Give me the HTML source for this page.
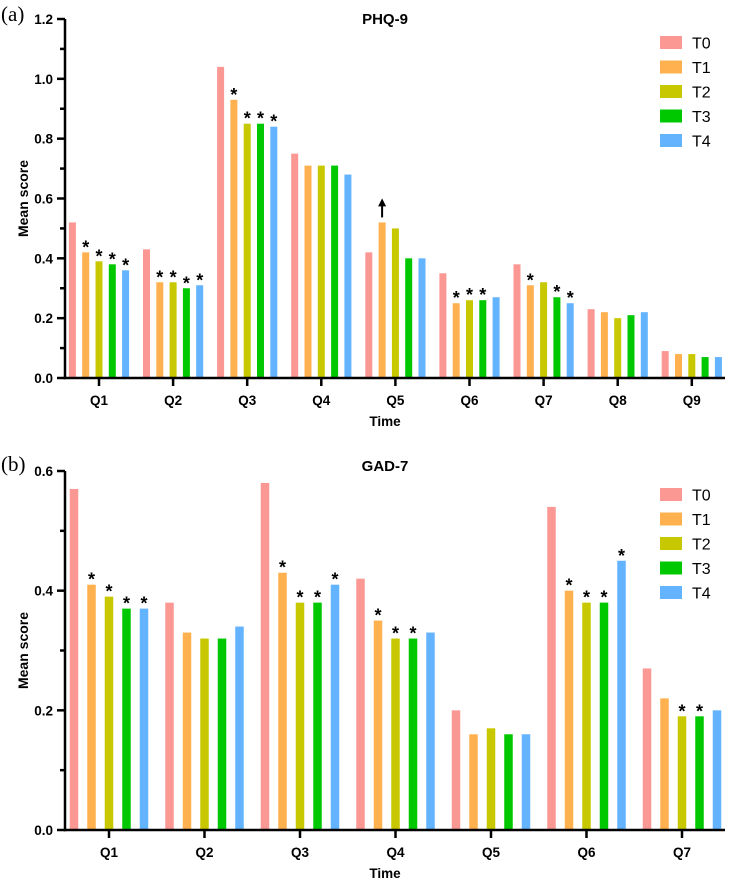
<!DOCTYPE html>
<html><head><meta charset="utf-8"><style>
body{margin:0;background:#fff}
svg{display:block;font-family:"Liberation Sans",sans-serif}
</style></head><body>
<svg id="chart" width="730" height="881"></svg>
<script>
const colors=["#fb9893","#ffb150","#c8c800","#00c800","#63b3ff"];
const seriesNames=["T0","T1","T2","T3","T4"];
const catsA=["Q1","Q2","Q3","Q4","Q5","Q6","Q7","Q8","Q9"];
const t0A=[0.52,0.43,1.04,0.75,0.42,0.35,0.38,0.23,0.09];
const t1A=[0.42,0.32,0.93,0.71,0.52,0.25,0.31,0.22,0.08];
const t2A=[0.39,0.32,0.85,0.71,0.50,0.26,0.32,0.20,0.08];
const t3A=[0.38,0.30,0.85,0.71,0.40,0.26,0.27,0.21,0.07];
const t4A=[0.36,0.31,0.84,0.68,0.40,0.27,0.25,0.22,0.07];
const starsA=[[0,1,1,1,1],[0,1,1,1,1],[0,1,1,1,1],[0,0,0,0,0],[0,0,0,0,0],[0,1,1,1,0],[0,1,0,1,1],[0,0,0,0,0],[0,0,0,0,0]];
const arrowsA=[[0,0,0,0,0],[0,0,0,0,0],[0,0,0,0,0],[0,0,0,0,0],[0,1,0,0,0],[0,0,0,0,0],[0,0,0,0,0],[0,0,0,0,0],[0,0,0,0,0]];
const ticksA=[0,0.2,0.4,0.6,0.8,1.0,1.2];
const minorA=[0.1,0.3,0.5,0.7,0.9,1.1];
const catsB=["Q1","Q2","Q3","Q4","Q5","Q6","Q7"];
const t0B=[0.57,0.38,0.58,0.42,0.20,0.54,0.27];
const t1B=[0.41,0.33,0.43,0.35,0.16,0.40,0.22];
const t2B=[0.39,0.32,0.38,0.32,0.17,0.38,0.19];
const t3B=[0.37,0.32,0.38,0.32,0.16,0.38,0.19];
const t4B=[0.37,0.34,0.41,0.33,0.16,0.45,0.20];
const starsB=[[0,1,1,1,1],[0,0,0,0,0],[0,1,1,1,1],[0,1,1,1,0],[0,0,0,0,0],[0,1,1,1,1],[0,0,1,1,0]];
const ticksB=[0,0.2,0.4,0.6];
const minorB=[0.1,0.3,0.5];

const svg=document.getElementById('chart');
const NS="http://www.w3.org/2000/svg";
function mk(tag,attrs,parent,text){const e=document.createElementNS(NS,tag);for(const k in attrs)e.setAttribute(k,attrs[k]);if(text!==undefined)e.textContent=text;(parent||svg).appendChild(e);return e;}

function panel(cfg){
  const g=mk('g',{});
  
  
  const y=v=>cfg.y0-(v/cfg.ymax)*(cfg.y0-cfg.yTop);
  const x=i=>cfg.x1+i*cfg.step;
  const series=cfg.series;
  cfg.cats.forEach((c,i)=>{
    series.forEach((s,j)=>{
      const cx=x(i)+(j-2)*cfg.off;
      const r=mk('rect',{x:cx-cfg.bw/2,y:y(s[i]),width:cfg.bw,height:cfg.y0-y(s[i]),fill:colors[j]},g);
      
      
      if(cfg.stars[i][j]){
        const t=mk('text',{x:cx,y:y(s[i])+1,'text-anchor':'middle','font-size':'18','font-weight':'bold',fill:'#000'},g,'*');
        
        
      }
      if(cfg.arrows&&cfg.arrows[i][j]){
        const ay=y(s[i])-5;
        const a=mk('g',{},g);
        
        
        mk('line',{x1:cx,y1:ay,x2:cx,y2:ay-14,stroke:'#000','stroke-width':2},a);
        mk('polygon',{points:`${cx-4},${ay-11} ${cx+4},${ay-11} ${cx},${ay-19}`,fill:'#000'},a);
      }
    });
    const tk=mk('line',{x1:x(i),y1:cfg.y0,x2:x(i),y2:cfg.y0+8,stroke:'#000','stroke-width':2.5},g);
    
    
    const lb=mk('text',{x:x(i),y:cfg.y0+27,'text-anchor':'middle','font-size':'13.5','font-weight':'bold'},g,c);
    
    
  });
  const ya=mk('line',{x1:65,y1:cfg.yTop,x2:65,y2:cfg.y0+1.2,stroke:'#000','stroke-width':2.5},g);
  
  
  const xa=mk('line',{x1:63.8,y1:cfg.y0,x2:725,y2:cfg.y0,stroke:'#000','stroke-width':2.5},g);
  
  
  cfg.ticks.forEach(v=>{
    mk('line',{x1:57,y1:y(v),x2:65,y2:y(v),stroke:'#000','stroke-width':2.5},g);
    const t=mk('text',{x:53,y:y(v)+5,'text-anchor':'end','font-size':'13.5','font-weight':'bold'},g,v.toFixed(1));
    
    
  });
  cfg.minor.forEach(v=>{mk('line',{x1:60,y1:y(v),x2:65,y2:y(v),stroke:'#000','stroke-width':2.5},g);});
  const yt=mk('text',{x:0,y:0,transform:`translate(28,${(cfg.y0+cfg.yTop)/2}) rotate(-90)`,'text-anchor':'middle','font-size':'14','font-weight':'bold'},g,'Mean score');
  
  
  const xt=mk('text',{x:385,y:cfg.y0+48,'text-anchor':'middle','font-size':'13.5','font-weight':'bold'},g,'Time');
  
  
  const tt=mk('text',{x:385,y:cfg.titleY,'text-anchor':'middle','font-size':'15','font-weight':'bold'},g,cfg.title);
  
  
  const pl=mk('text',{x:1,y:cfg.panelY,'font-size':'21','font-family':'"Liberation Serif",serif'},g,cfg.panel);
  
  
  seriesNames.forEach((n,j)=>{
    const ly=cfg.legY+j*24.5;
    const le=mk('g',{},g);
    
    
    mk('rect',{x:660,y:ly,width:22,height:13,fill:colors[j]},le);
    mk('text',{x:692,y:ly+12.5,'font-size':'16'},le,n);
  });
}
panel({name:'phq9-chart',cats:catsA,series:[t0A,t1A,t2A,t3A,t4A],stars:starsA,arrows:arrowsA,ticks:ticksA,minor:minorA,
  ymax:1.2,y0:378,yTop:19,x1:99,step:74.1,off:13.3,bw:7,title:'PHQ-9',titleY:24,panel:'(a)',panelY:21,legY:36});
panel({name:'gad7-chart',cats:catsB,series:[t0B,t1B,t2B,t3B,t4B],stars:starsB,ticks:ticksB,minor:minorB,
  ymax:0.6,y0:830,yTop:471,x1:109,step:95.5,off:17.5,bw:8.5,title:'GAD-7',titleY:471,panel:'(b)',panelY:471,legY:488});
</script>
</body></html>
